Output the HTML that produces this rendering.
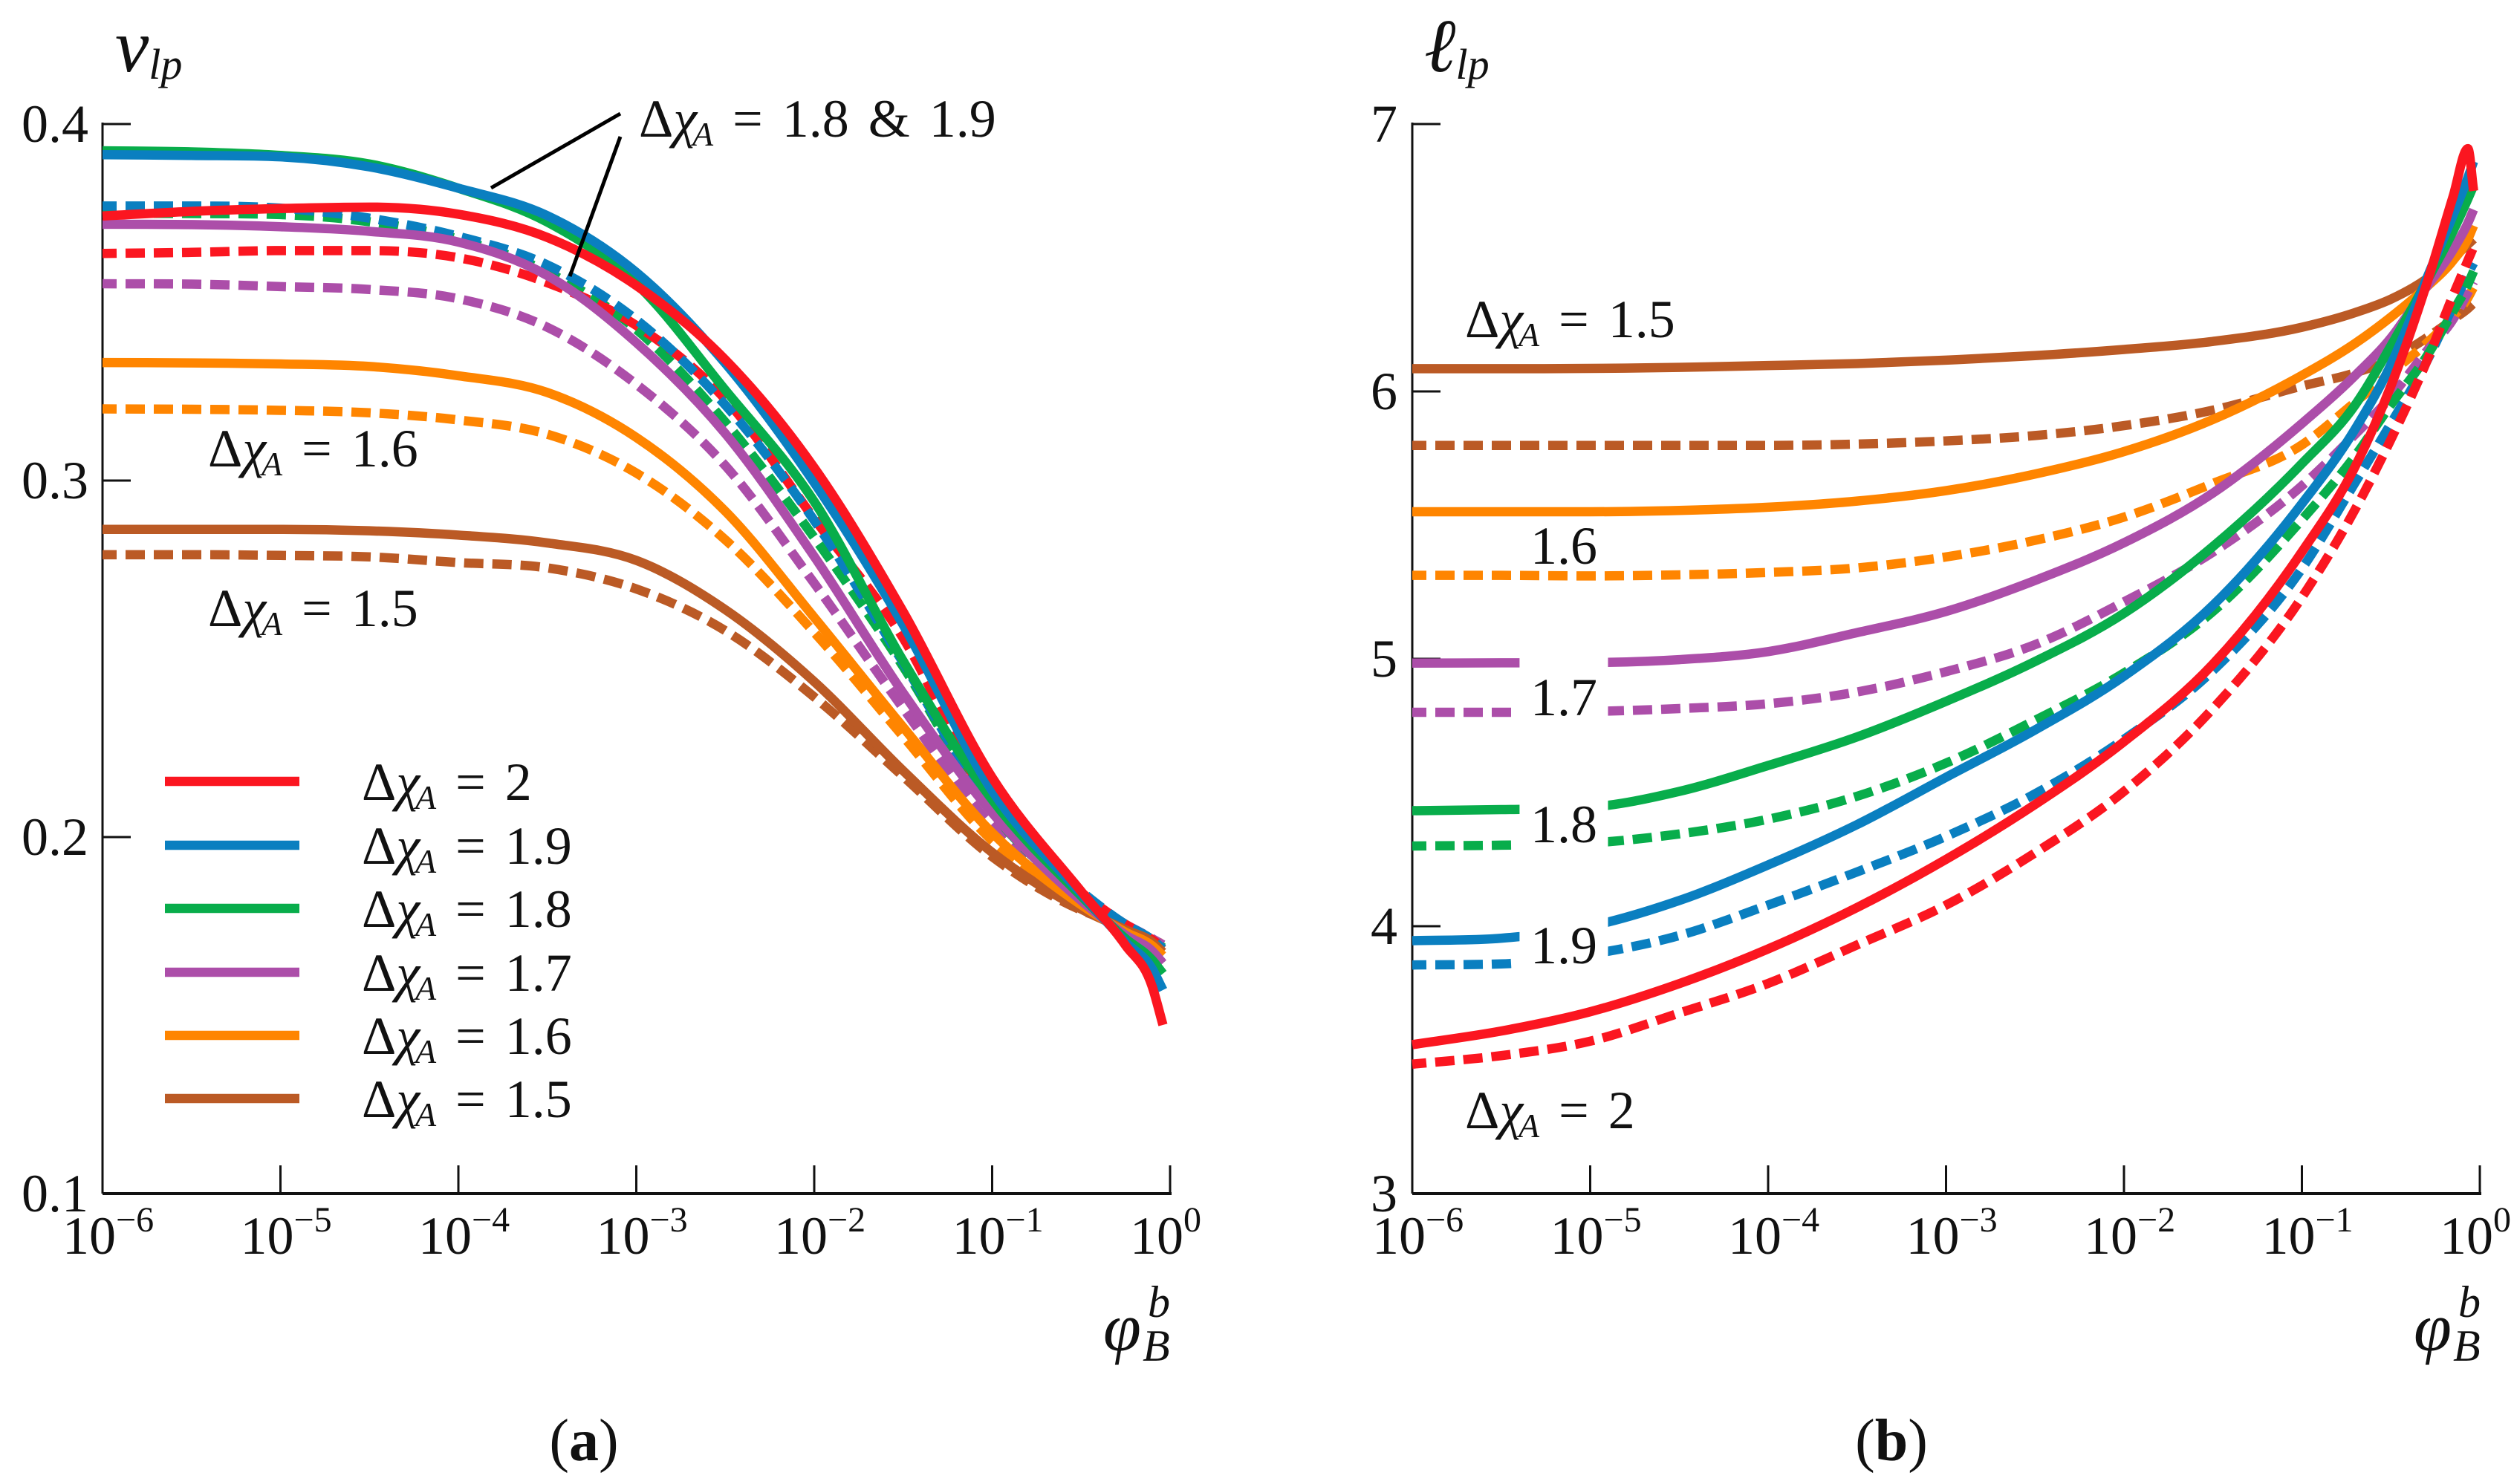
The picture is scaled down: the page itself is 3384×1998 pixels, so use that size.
<!DOCTYPE html>
<html>
<head>
<meta charset="utf-8">
<title>vlp and llp versus phi</title>
<style>
html,body{margin:0;padding:0;background:#fff;}
svg{display:block;}
text{font-family:"Liberation Serif","DejaVu Serif",serif;fill:#111;}
.lab{font-size:72px;word-spacing:8px;}
.i{font-style:italic;}
</style>
</head>
<body>
<svg id="fig" xmlns="http://www.w3.org/2000/svg" width="3384" height="1998" viewBox="0 0 3384 1998">
<rect x="0" y="0" width="3384" height="1998" fill="#fff"/>
<g id="chartA"></g>
<g id="chartB"></g>

<text x="155" y="96" font-size="102" class="i">v<tspan font-size="58" dy="10" dx="0">lp</tspan></text>
<text x="1917" y="96" font-size="102" class="i">ℓ<tspan font-size="58" dy="10" dx="0">lp</tspan></text>

<g>
<text x="1485" y="1818" font-size="92" class="i">φ</text>
<text x="1545" y="1773" font-size="60" class="i">b</text>
<text x="1538" y="1832" font-size="60" class="i">B</text>
</g>
<g>
<text x="3249" y="1818" font-size="92" class="i">φ</text>
<text x="3309" y="1773" font-size="60" class="i">b</text>
<text x="3302" y="1832" font-size="60" class="i">B</text>
</g>

<g>
<line x1="835" y1="153" x2="661" y2="253" stroke="#000" stroke-width="5"/>
<line x1="835" y1="184" x2="767" y2="372" stroke="#000" stroke-width="5"/>
</g>

<text class="lab" x="860" y="184">Δ<tspan class="i">χ</tspan><tspan class="i" font-size="46" dy="12" dx="-6">A</tspan><tspan dy="-12"> = 1.8 &amp; 1.9</tspan></text>
<text class="lab" x="280" y="628">Δ<tspan class="i">χ</tspan><tspan class="i" font-size="46" dy="12" dx="-6">A</tspan><tspan dy="-12"> = 1.6</tspan></text>
<text class="lab" x="280" y="843">Δ<tspan class="i">χ</tspan><tspan class="i" font-size="46" dy="12" dx="-6">A</tspan><tspan dy="-12"> = 1.5</tspan></text>

<text class="lab" x="1972" y="454">Δ<tspan class="i">χ</tspan><tspan class="i" font-size="46" dy="12" dx="-6">A</tspan><tspan dy="-12"> = 1.5</tspan></text>
<text class="lab" x="2060" y="759">1.6</text>
<text class="lab" x="2060" y="963">1.7</text>
<text class="lab" x="2060" y="1134">1.8</text>
<text class="lab" x="2060" y="1297">1.9</text>
<text class="lab" x="1972" y="1519">Δ<tspan class="i">χ</tspan><tspan class="i" font-size="46" dy="12" dx="-6">A</tspan><tspan dy="-12"> = 2</tspan></text>

<g>
<text class="lab" x="487" y="1077">Δ<tspan class="i">χ</tspan><tspan class="i" font-size="46" dy="12" dx="-6">A</tspan><tspan dy="-12"> = 2</tspan></text>
<text class="lab" x="487" y="1163">Δ<tspan class="i">χ</tspan><tspan class="i" font-size="46" dy="12" dx="-6">A</tspan><tspan dy="-12"> = 1.9</tspan></text>
<text class="lab" x="487" y="1248">Δ<tspan class="i">χ</tspan><tspan class="i" font-size="46" dy="12" dx="-6">A</tspan><tspan dy="-12"> = 1.8</tspan></text>
<text class="lab" x="487" y="1334">Δ<tspan class="i">χ</tspan><tspan class="i" font-size="46" dy="12" dx="-6">A</tspan><tspan dy="-12"> = 1.7</tspan></text>
<text class="lab" x="487" y="1419">Δ<tspan class="i">χ</tspan><tspan class="i" font-size="46" dy="12" dx="-6">A</tspan><tspan dy="-12"> = 1.6</tspan></text>
<text class="lab" x="487" y="1504">Δ<tspan class="i">χ</tspan><tspan class="i" font-size="46" dy="12" dx="-6">A</tspan><tspan dy="-12"> = 1.5</tspan></text>
<line x1="222" x2="403" y1="1052" y2="1052" stroke="#fb1620" stroke-width="12.5"/>
<line x1="222" x2="403" y1="1138" y2="1138" stroke="#0a7fc0" stroke-width="12.5"/>
<line x1="222" x2="403" y1="1223" y2="1223" stroke="#08ad4b" stroke-width="12.5"/>
<line x1="222" x2="403" y1="1309" y2="1309" stroke="#ac4ea9" stroke-width="12.5"/>
<line x1="222" x2="403" y1="1394" y2="1394" stroke="#ff8500" stroke-width="12.5"/>
<line x1="222" x2="403" y1="1479" y2="1479" stroke="#bb5a25" stroke-width="12.5"/>
</g>

<text x="786" y="1966" font-size="80" text-anchor="middle">(<tspan font-weight="bold">a</tspan>)</text>
<text x="2546" y="1966" font-size="80" text-anchor="middle">(<tspan font-weight="bold">b</tspan>)</text>
</svg>

<script>
// ---- shared tick data ----
const xTickExponents = [-6, -5, -4, -3, -2, -1, 0];
const xTickLabels = ['−6', '−5', '−4', '−3', '−2', '−1', '0'];

// ---- panel (a) data: v_lp vs log10(phi) ----
const aLogPhi = [-6, -5.5, -5, -4.5, -4, -3.5, -3, -2.5, -2, -1.5, -1, -0.5, -0.25, -0.1, -0.04];
const aYTicks = [0.4, 0.3, 0.2, 0.1];
const aYTickLabels = ['0.4', '0.3', '0.2', '0.1'];
const aBrownDashed  = [.2792, .2792, .279, .2786, .277, .2755, .2696, .2579, .2393, .217, .1945, .1795, .175, .171, .1685];
const aOrangeDashed = [.3201, .32, .3197, .319, .317, .313, .3021, .2834, .2574, .2282, .199, .181, .1752, .1712, .170];
const aPurpleDashed = [.3552, .3551, .3544, .3536, .351, .343, .327, .3042, .2712, .2361, .203, .1825, .1755, .1715, .1698];
const aGreenDashed  = [.375, .3749, .3746, .3726, .3677, .3585, .3424, .3164, .284, .2478, .207, .1835, .1755, .1712, .169];
const aRedDashed    = [.3637, .364, .3645, .3645, .3625, .3555, .3435, .3228, .2893, .2558, .2085, .1845, .1755, .1712, .169];
const aBlueDashed   = [.377, .377, .3764, .3736, .3685, .3605, .3451, .3212, .2888, .2489, .208, .1848, .1755, .1712, .1687];
const aBrownSolid   = [.2863, .2863, .2863, .2859, .2847, .2825, .2776, .2638, .2436, .2186, .1957, .1798, .174, .1705, .1677];
const aOrangeSolid  = [.3331, .333, .3327, .332, .3294, .3247, .3121, .2914, .2616, .2308, .2012, .181, .1733, .1695, .1667];
const aPurpleSolid  = [.3719, .3718, .3712, .3699, .3669, .3575, .3387, .3132, .2787, .2404, .2068, .1822, .1725, .168, .1646];
const aGreenSolid   = [.3925, .3922, .3912, .3888, .382, .3725, .3552, .3254, .2941, .2494, .2105, .1835, .1715, .1655, .1617];
const aBlueSolid    = [.3914, .3912, .3908, .388, .382, .3743, .3584, .3329, .2994, .2595, .213, .1842, .1705, .163, .1571];
const aRedSolid     = [.3742, .3755, .3763, .3767, .3747, .3682, .3547, .3339, .3036, .2632, .2167, .1848, .1696, .158, .1473];

// ---- panel (b) data: l_lp vs log10(phi) ----
const bLogPhi = [-6, -5.5, -5, -4.5, -4, -3.5, -3, -2.5, -2, -1.5, -1, -0.7, -0.5, -0.3, -0.15, -0.067, -0.035];
const bYTicks = [7, 6, 5, 4, 3];
const bYTickLabels = ['7', '6', '5', '4', '3'];
const bBrownDashed  = [5.798, 5.798, 5.798, 5.798, 5.798, 5.803, 5.815, 5.835, 5.872, 5.93, 6.02, 6.07, 6.12, 6.2, 6.27, 6.31, 6.33];
const bOrangeDashed = [5.312, 5.312, 5.31, 5.314, 5.323, 5.34, 5.381, 5.443, 5.53, 5.656, 5.80, 5.96, 6.07, 6.18, 6.28, 6.35, 6.39];
const bPurpleDashed = [4.8, 4.8, 4.803, 4.814, 4.832, 4.876, 4.952, 5.053, 5.213, 5.399, 5.647, 5.84, 5.98, 6.15, 6.27, 6.37, 6.41];
const bBlueDashed   = [3.855, 3.859, 3.895, 3.965, 4.079, 4.203, 4.336, 4.495, 4.699, 4.956, 5.337, 5.66, 5.88, 6.11, 6.32, 6.44, 6.48];
const bGreenDashed  = [4.3, 4.303, 4.311, 4.345, 4.40, 4.486, 4.61, 4.77, 4.947, 5.177, 5.52, 5.76, 5.95, 6.13, 6.3, 6.4, 6.45];
const bRedDashed    = [3.484, 3.516, 3.57, 3.675, 3.786, 3.93, 4.079, 4.274, 4.504, 4.814, 5.23, 5.56, 5.82, 6.11, 6.36, 6.49, 6.54];
const bBrownSolid   = [6.085, 6.085, 6.086, 6.09, 6.097, 6.104, 6.117, 6.134, 6.157, 6.187, 6.24, 6.295, 6.345, 6.42, 6.5, 6.55, 6.57];
const bOrangeSolid  = [5.55, 5.55, 5.55, 5.555, 5.567, 5.59, 5.629, 5.691, 5.775, 5.895, 6.06, 6.18, 6.278, 6.39, 6.49, 6.57, 6.62];
const bPurpleSolid  = [4.984, 4.985, 4.986, 4.997, 5.027, 5.098, 5.177, 5.293, 5.434, 5.62, 5.88, 6.06, 6.2, 6.39, 6.53, 6.63, 6.68];
const bGreenSolid   = [4.432, 4.436, 4.445, 4.504, 4.601, 4.708, 4.841, 4.99, 5.17, 5.42, 5.73, 5.95, 6.17, 6.41, 6.6, 6.72, 6.77];
const bBlueSolid    = [3.946, 3.955, 4.0, 4.096, 4.229, 4.38, 4.557, 4.734, 4.935, 5.20, 5.58, 5.86, 6.1, 6.42, 6.66, 6.8, 6.86];
const bRedSolid     = [3.557, 3.608, 3.68, 3.785, 3.915, 4.07, 4.25, 4.455, 4.69, 4.98, 5.40, 5.72, 6.02, 6.4, 6.73, 6.908, 6.75];

// label gaps in panel (b), in log10(phi) units
const bSolidGap = [-5.397, -4.9];
const bDashedGap = [-5.44, -4.9];

const NS = 'http://www.w3.org/2000/svg';
const COLORS = {red:'#fb1620', blue:'#0a7fc0', green:'#08ad4b', purple:'#ac4ea9', orange:'#ff8500', brown:'#bb5a25'};

function el(tag, parent, attrs) {
  const e = document.createElementNS(NS, tag);
  for (const k in attrs) e.setAttribute(k, attrs[k]);
  parent.appendChild(e);
  return e;
}

// smooth C1 cubic through data points (three-point tangents, clamped)
function curve(xs, ys) {
  const n = xs.length, d = [], m = [];
  for (let i = 0; i < n - 1; i++) d.push((ys[i+1] - ys[i]) / (xs[i+1] - xs[i]));
  m[0] = d[0]; m[n-1] = d[n-2];
  for (let i = 1; i < n - 1; i++) {
    if (d[i-1] * d[i] <= 0) { m[i] = 0; continue; }
    const h0 = xs[i] - xs[i-1], h1 = xs[i+1] - xs[i];
    const t = (h1*d[i-1] + h0*d[i]) / (h0 + h1);
    const lim = 3 * Math.min(Math.abs(d[i-1]), Math.abs(d[i]));
    m[i] = Math.sign(t) * Math.min(Math.abs(t), lim);
  }
  let p = 'M' + xs[0].toFixed(2) + ' ' + ys[0].toFixed(2);
  for (let i = 0; i < n - 1; i++) {
    const h = (xs[i+1] - xs[i]) / 3;
    p += 'C' + (xs[i]+h).toFixed(2) + ' ' + (ys[i]+m[i]*h).toFixed(2) + ' ' +
         (xs[i+1]-h).toFixed(2) + ' ' + (ys[i+1]-m[i+1]*h).toFixed(2) + ' ' +
         xs[i+1].toFixed(2) + ' ' + ys[i+1].toFixed(2);
  }
  return p;
}

function drawPanel(cfg) {
  const g = cfg.group;
  const sx = v => cfg.x0 + (v + 6) * (cfg.x1 - cfg.x0) / 6;
  const sy = v => cfg.yBottom - (v - cfg.yMin) * (cfg.yBottom - cfg.yTop) / (cfg.yMax - cfg.yMin);

  const yAxis = el('line', g, {x1:cfg.x0, x2:cfg.x0, y1:sy(cfg.yMax)-2, y2:cfg.yBottom, stroke:'#111', 'stroke-width':3});
  
  
  const xAxis = el('line', g, {x1:cfg.x0, x2:cfg.x1+2, y1:cfg.yBottom, y2:cfg.yBottom, stroke:'#111', 'stroke-width':4});
  
  

  cfg.yTicks.forEach((v, i) => {
    if (v !== cfg.yMin) {
      const t = el('line', g, {x1:cfg.x0, x2:cfg.x0+38, y1:sy(v), y2:sy(v), stroke:'#111', 'stroke-width':3});
      
      
    }
    const l = el('text', g, {x:cfg.yLabelX, y:sy(v)+24, 'font-size':72, 'text-anchor':'end'});
    l.textContent = cfg.yTickLabels[i];
    
    
  });

  xTickExponents.forEach((v, i) => {
    if (v !== -6) {
      const t = el('line', g, {x1:sx(v), x2:sx(v), y1:cfg.yBottom, y2:cfg.yBottom-38, stroke:'#111', 'stroke-width':3});
      
      
    }
    const l = el('text', g, {x:sx(v)-54, y:1688, 'font-size':72});
    l.textContent = '10';
    const s = el('tspan', l, {'font-size':48, dy:-30});
    s.textContent = xTickLabels[i];
    
    
  });

  const xs = cfg.logPhi.map(sx);
  cfg.series.forEach(s => {
    const ys = s.values.map(sy);
    const attrs = {d:curve(xs, ys), fill:'none', stroke:COLORS[s.color], 'stroke-width':cfg.lineWidth, 'stroke-linejoin':'round', 'stroke-linecap':'butt'};
    if (s.dashed) { attrs['stroke-dasharray'] = cfg.dash; attrs['stroke-dashoffset'] = 7; }
    if (s.gap) {
      const cid = 'clip-' + cfg.id + '-' + s.name;
      const cp = el('clipPath', g, {id:cid});
      el('rect', cp, {x:0, y:0, width:sx(s.gap[0]), height:1998});
      el('rect', cp, {x:sx(s.gap[1]), y:0, width:3384-sx(s.gap[1]), height:1998});
      attrs['clip-path'] = 'url(#' + cid + ')';
    }
    const path = el('path', g, attrs);
    
    
  });
}

drawPanel({
  id:'a', group:document.getElementById('chartA'),
  x0:138, x1:1575, yTop:167, yBottom:1607, yMin:0.1, yMax:0.4, yLabelX:119,
  logPhi:aLogPhi, yTicks:aYTicks, yTickLabels:aYTickLabels,
  lineWidth:12.5, dash:'26 12',
  series:[
    {name:'1-5-dashed', color:'brown', dashed:true, values:aBrownDashed},
    {name:'1-6-dashed', color:'orange', dashed:true, values:aOrangeDashed},
    {name:'1-7-dashed', color:'purple', dashed:true, values:aPurpleDashed},
    {name:'1-8-dashed', color:'green', dashed:true, values:aGreenDashed},
    {name:'2-dashed', color:'red', dashed:true, values:aRedDashed},
    {name:'1-9-dashed', color:'blue', dashed:true, values:aBlueDashed},
    {name:'1-5-solid', color:'brown', values:aBrownSolid},
    {name:'1-6-solid', color:'orange', values:aOrangeSolid},
    {name:'1-7-solid', color:'purple', values:aPurpleSolid},
    {name:'1-8-solid', color:'green', values:aGreenSolid},
    {name:'1-9-solid', color:'blue', values:aBlueSolid},
    {name:'2-solid', color:'red', values:aRedSolid}
  ]
});

drawPanel({
  id:'b', group:document.getElementById('chartB'),
  x0:1901, x1:3338, yTop:167, yBottom:1607, yMin:3, yMax:7, yLabelX:1881,
  logPhi:bLogPhi, yTicks:bYTicks, yTickLabels:bYTickLabels,
  lineWidth:12.5, dash:'26 12',
  series:[
    {name:'1-5-dashed', color:'brown', dashed:true, values:bBrownDashed},
    {name:'1-6-dashed', color:'orange', dashed:true, values:bOrangeDashed},
    {name:'1-7-dashed', color:'purple', dashed:true, values:bPurpleDashed, gap:bDashedGap},
    {name:'1-9-dashed', color:'blue', dashed:true, values:bBlueDashed, gap:bDashedGap},
    {name:'1-8-dashed', color:'green', dashed:true, values:bGreenDashed, gap:bDashedGap},
    {name:'2-dashed', color:'red', dashed:true, values:bRedDashed},
    {name:'1-5-solid', color:'brown', values:bBrownSolid},
    {name:'1-6-solid', color:'orange', values:bOrangeSolid},
    {name:'1-7-solid', color:'purple', values:bPurpleSolid, gap:bSolidGap},
    {name:'1-8-solid', color:'green', values:bGreenSolid, gap:bSolidGap},
    {name:'1-9-solid', color:'blue', values:bBlueSolid, gap:bSolidGap},
    {name:'2-solid', color:'red', values:bRedSolid}
  ]
});
</script>
</body>
</html>
